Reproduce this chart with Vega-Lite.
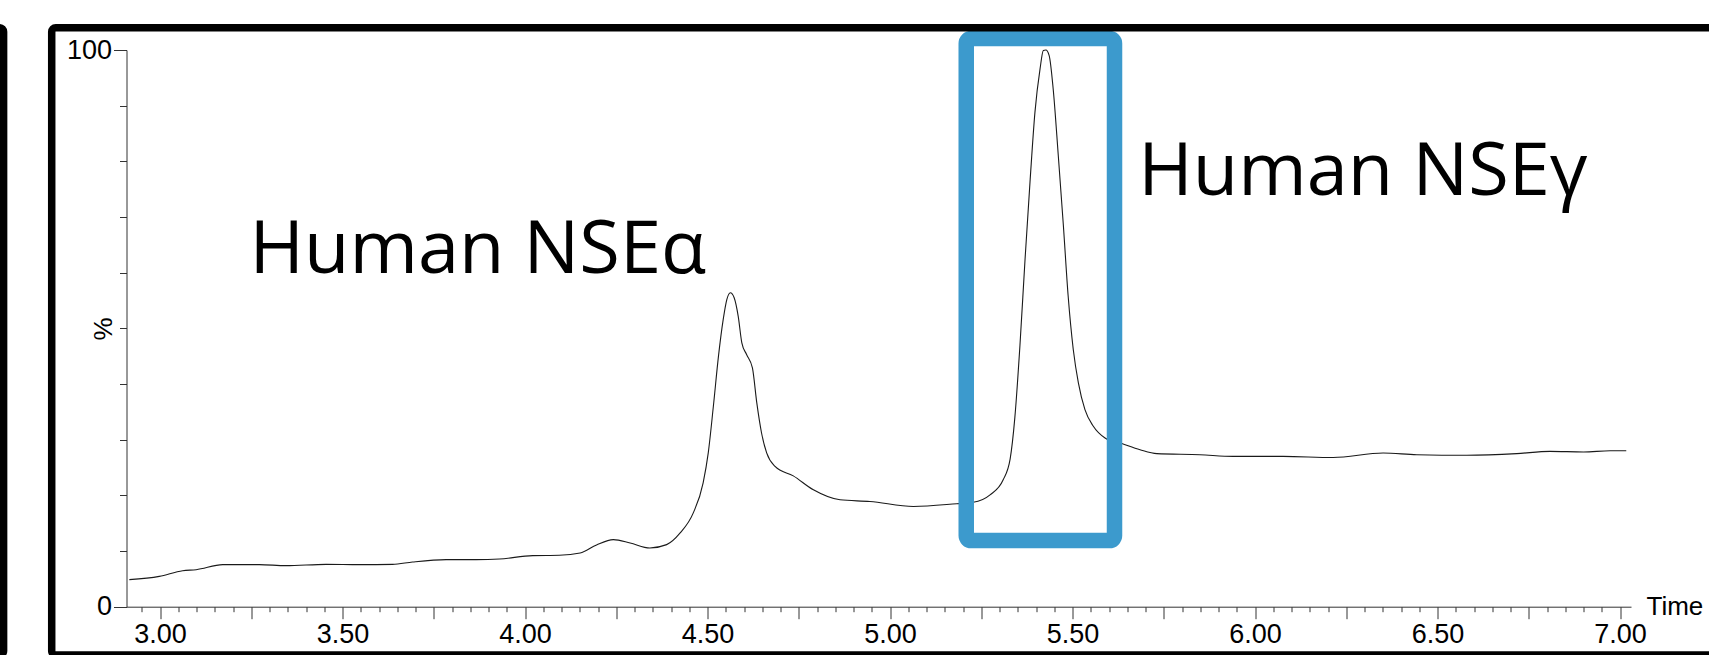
{
  "$schema": "https://vega.github.io/schema/vega-lite/v6.json",
  "width": 1504.5,
  "height": 556.7,
  "autosize": "none",
  "padding": {"left": 126.5, "top": 50, "right": 78, "bottom": 48.3},
  "background": "white",
  "config": {"view": {"stroke": null}, "font": "Liberation Sans"},
  "datasets": {
    "trace": [
      {"t": 2.916, "pct": 4.86}, {"t": 2.998, "pct": 5.45}, {"t": 3.062, "pct": 6.47}, {"t": 3.099, "pct": 6.65},
      {"t": 3.172, "pct": 7.55}, {"t": 3.272, "pct": 7.55}, {"t": 3.345, "pct": 7.37}, {"t": 3.455, "pct": 7.61},
      {"t": 3.546, "pct": 7.55}, {"t": 3.637, "pct": 7.61}, {"t": 3.692, "pct": 8.03}, {"t": 3.784, "pct": 8.45},
      {"t": 3.866, "pct": 8.45}, {"t": 3.93, "pct": 8.57}, {"t": 4.021, "pct": 9.17}, {"t": 4.094, "pct": 9.23},
      {"t": 4.151, "pct": 9.65}, {"t": 4.196, "pct": 11.1}, {"t": 4.242, "pct": 12.05}, {"t": 4.288, "pct": 11.45},
      {"t": 4.342, "pct": 10.55}, {"t": 4.388, "pct": 11.15}, {"t": 4.425, "pct": 13.25}, {"t": 4.461, "pct": 16.85},
      {"t": 4.488, "pct": 22.25}, {"t": 4.502, "pct": 27.64}, {"t": 4.516, "pct": 36.0}, {"t": 4.53, "pct": 45.0},
      {"t": 4.543, "pct": 51.6}, {"t": 4.553, "pct": 55.2}, {"t": 4.5625, "pct": 56.4}, {"t": 4.573, "pct": 55.5},
      {"t": 4.584, "pct": 52.2}, {"t": 4.594, "pct": 47.4}, {"t": 4.607, "pct": 45.3}, {"t": 4.623, "pct": 42.9},
      {"t": 4.635, "pct": 36.6}, {"t": 4.648, "pct": 31.2}, {"t": 4.662, "pct": 27.64}, {"t": 4.685, "pct": 25.2},
      {"t": 4.735, "pct": 23.5}, {"t": 4.79, "pct": 21.0}, {"t": 4.863, "pct": 19.2}, {"t": 4.945, "pct": 18.9},
      {"t": 5.064, "pct": 18.0}, {"t": 5.183, "pct": 18.5}, {"t": 5.228, "pct": 18.75}, {"t": 5.274, "pct": 20.1},
      {"t": 5.31, "pct": 22.8}, {"t": 5.329, "pct": 26.5}, {"t": 5.342, "pct": 34.0}, {"t": 5.356, "pct": 47.0},
      {"t": 5.37, "pct": 62.5}, {"t": 5.384, "pct": 76.8}, {"t": 5.397, "pct": 88.8}, {"t": 5.411, "pct": 96.6},
      {"t": 5.42, "pct": 99.9}, {"t": 5.427, "pct": 100}, {"t": 5.436, "pct": 99.0}, {"t": 5.447, "pct": 93.0},
      {"t": 5.461, "pct": 81.0}, {"t": 5.475, "pct": 68.4}, {"t": 5.488, "pct": 55.8}, {"t": 5.502, "pct": 46.2},
      {"t": 5.516, "pct": 40.2}, {"t": 5.534, "pct": 35.4}, {"t": 5.557, "pct": 32.4}, {"t": 5.589, "pct": 30.3},
      {"t": 5.635, "pct": 29.3}, {"t": 5.685, "pct": 28.2}, {"t": 5.731, "pct": 27.5}, {"t": 5.849, "pct": 27.3},
      {"t": 5.94, "pct": 27.0}, {"t": 6.077, "pct": 27.0}, {"t": 6.214, "pct": 26.8}, {"t": 6.351, "pct": 27.6},
      {"t": 6.443, "pct": 27.3}, {"t": 6.58, "pct": 27.2}, {"t": 6.717, "pct": 27.5}, {"t": 6.808, "pct": 27.9},
      {"t": 6.9, "pct": 27.8}, {"t": 6.973, "pct": 28.0}, {"t": 7.017, "pct": 28.0}
    ],
    "labels": [
      {"t": 3.245, "pct": 59.9, "label": "Human NSEα"},
      {"t": 5.68, "pct": 73.9, "label": "Human NSEγ"}
    ],
    "box": [
      {"t": 5.2088, "t1": 5.615, "pct": 11.87, "v1": 102.07}
    ],
    "frame": [
      {"t": 2.7033, "t1": 7.35, "pct": -8.68, "v1": 103.99},
      {"t": 2.3, "t1": 2.5715, "pct": -8.68, "v1": 103.99}
    ]
  },
  "encoding": {
    "x": {
      "field": "t", "type": "quantitative",
      "scale": {"domain": [2.9082, 7.03], "nice": false, "zero": false},
      "axis": {
        "title": "Time", "titleFont": "Liberation Sans", "titleFontSize": 26, "titleFontWeight": "normal",
        "titleColor": "black", "titleX": 1519.5, "titleY": 0, "titleAlign": "left", "titleBaseline": "middle", "titleAngle": 0,
        "values": [2.95, 3.0, 3.05, 3.1, 3.15, 3.2, 3.25, 3.3, 3.35, 3.4, 3.45, 3.5, 3.55, 3.6, 3.65, 3.7, 3.75, 3.8, 3.85, 3.9, 3.95, 4.0, 4.05, 4.1, 4.15, 4.2, 4.25, 4.3, 4.35, 4.4, 4.45, 4.5, 4.55, 4.6, 4.65, 4.7, 4.75, 4.8, 4.85, 4.9, 4.95, 5.0, 5.05, 5.1, 5.15, 5.2, 5.25, 5.3, 5.35, 5.4, 5.45, 5.5, 5.55, 5.6, 5.65, 5.7, 5.75, 5.8, 5.85, 5.9, 5.95, 6.0, 6.05, 6.1, 6.15, 6.2, 6.25, 6.3, 6.35, 6.4, 6.45, 6.5, 6.55, 6.6, 6.65, 6.7, 6.75, 6.8, 6.85, 6.9, 6.95, 7.0],
        "tickSize": {"condition": {"test": "abs(datum.value*4 - round(datum.value*4)) < 0.01", "value": 12}, "value": 5},
        "tickColor": "#333", "tickWidth": 1, "domainColor": "#333", "domainWidth": 1,
        "labelExpr": "abs(datum.value*2 - round(datum.value*2)) < 0.01 ? format(datum.value, '.2f') : ''",
        "labelFont": "Liberation Sans", "labelFontSize": 27, "labelColor": "black", "labelPadding": 3,
        "labelFlush": false, "labelOverlap": false, "labelBound": false, "grid": false
      }
    },
    "y": {
      "field": "pct", "type": "quantitative",
      "scale": {"domain": [0, 100], "nice": false, "zero": false},
      "axis": {
        "title": "%", "titleFont": "Liberation Sans", "titleFontSize": 26, "titleFontWeight": "normal",
        "titleColor": "black", "titleX": -23, "titleY": 278.35, "titleAngle": 270, "titleAlign": "center", "titleBaseline": "middle",
        "values": [0, 10, 20, 30, 40, 50, 60, 70, 80, 90, 100],
        "tickSize": {"condition": {"test": "datum.value == 0 || datum.value == 100", "value": 13}, "value": 7},
        "tickColor": "#333", "tickWidth": 1, "domainColor": "#333", "domainWidth": 1,
        "labelExpr": "datum.value == 0 || datum.value == 100 ? datum.label : ''",
        "labelFont": "Liberation Sans", "labelFontSize": 27, "labelColor": "black", "labelPadding": 2,
        "labelFlush": false, "labelOverlap": false, "labelBound": false, "grid": false
      }
    }
  },
  "layer": [
    {
      "data": {"name": "trace"},
      "mark": {"type": "line", "color": "#1a1a1a", "strokeWidth": 1.1, "interpolate": "monotone"}
    },
    {
      "data": {"name": "labels"},
      "mark": {"type": "text", "font": "Open Sans", "fontSize": 74, "align": "left", "baseline": "alphabetic", "color": "black"},
      "encoding": {"text": {"field": "label"}}
    },
    {
      "data": {"name": "box"},
      "mark": {"type": "rect", "filled": false, "stroke": "#3C9ACD", "strokeWidth": 15.5, "cornerRadius": 5},
      "encoding": {"x2": {"field": "t1"}, "y2": {"field": "v1"}}
    },
    {
      "data": {"name": "frame"},
      "mark": {"type": "rect", "filled": false, "stroke": "black", "strokeWidth": 7.5, "cornerRadius": 4},
      "encoding": {"x2": {"field": "t1"}, "y2": {"field": "v1"}}
    }
  ]
}
